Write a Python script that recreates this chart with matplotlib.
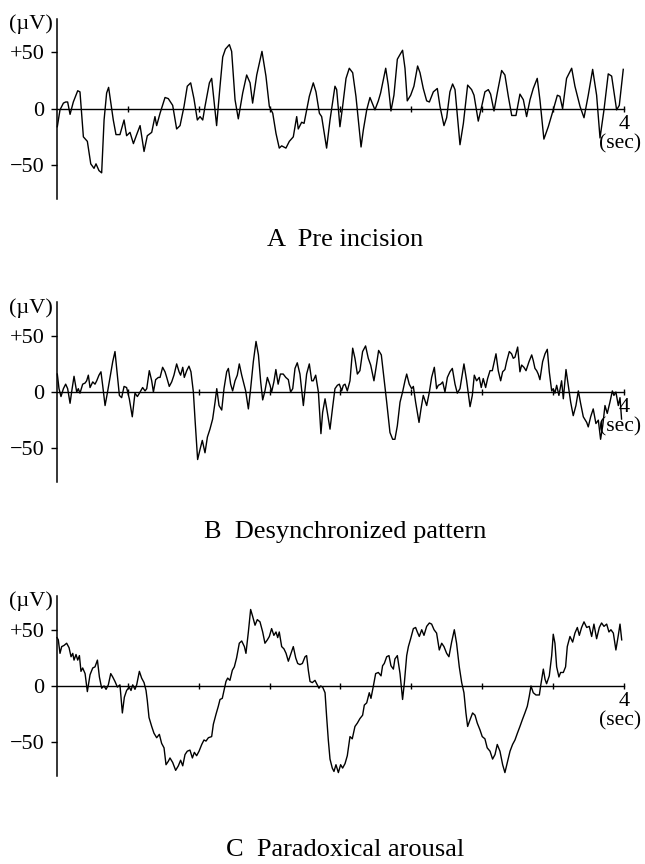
import matplotlib
matplotlib.use("Agg")
import matplotlib.pyplot as plt

plt.rcParams['font.family'] = ['Liberation Serif', 'DejaVu Serif']

# ---------------- data (time in sec, amplitude in microvolts) ----------------
tA = [0.002, 0.021, 0.045, 0.061, 0.075, 0.092, 0.115, 0.146, 0.162, 0.186, 0.214, 0.238, 0.261, 0.275,
      0.296, 0.315, 0.332, 0.350, 0.364, 0.397, 0.416, 0.444, 0.473, 0.491, 0.515, 0.539, 0.562, 0.586,
      0.614, 0.637, 0.668, 0.691, 0.703, 0.727, 0.762, 0.785, 0.816, 0.844, 0.868, 0.896, 0.919, 0.943,
      0.966, 0.990, 1.009, 1.028, 1.044, 1.075, 1.091, 1.126, 1.150, 1.169, 1.188, 1.216, 1.232, 1.256,
      1.279, 1.310, 1.338, 1.362, 1.380, 1.409, 1.446, 1.474, 1.498, 1.522, 1.545, 1.568, 1.585, 1.615,
      1.639, 1.667, 1.691, 1.702, 1.726, 1.743, 1.757, 1.780, 1.808, 1.827, 1.851, 1.867, 1.902, 1.926,
      1.961, 1.973, 1.996, 2.015, 2.039, 2.062, 2.086, 2.109, 2.126, 2.145, 2.161, 2.185, 2.208, 2.227,
      2.243, 2.267, 2.283, 2.319, 2.337, 2.356, 2.377, 2.401, 2.419, 2.438, 2.455, 2.471, 2.495, 2.518,
      2.544, 2.561, 2.584, 2.608, 2.627, 2.655, 2.683, 2.702, 2.730, 2.749, 2.772, 2.791, 2.808, 2.843,
      2.867, 2.897, 2.925, 2.942, 2.972, 2.996, 3.019, 3.043, 3.059, 3.083, 3.106, 3.137, 3.160, 3.184,
      3.208, 3.238, 3.266, 3.290, 3.313, 3.337, 3.360, 3.388, 3.407, 3.435, 3.466, 3.501, 3.530, 3.548,
      3.567, 3.595, 3.631, 3.654, 3.690, 3.718, 3.748, 3.779, 3.807, 3.831, 3.859, 3.889, 3.913, 3.948,
      3.967, 3.995]
vA = [-16, -1, 5, 6, 6, -5, 6, 16, 15, -25, -29, -49, -53, -49,
      -55, -57, -10, 14, 19, -10, -23, -23, -10, -24, -21, -31, -23, -15,
      -38, -24, -21, -7, -15, -4, 10, 9, 3, -18, -15, 2, 20, 23,
      9, -10, -7, -10, 2, 23, 27, -15, 20, 46, 53, 57, 51, 8,
      -9, 14, 30, 23, 5, 30, 51, 29, 2, -4, -22, -35, -33, -35,
      -29, -25, -7, -18, -12, -13, -4, 11, 23, 15, -4, -7, -35, -10,
      20, 17, -16, 2, 27, 36, 32, 11, -10, -34, -19, -1, 10, 4,
      -1, 7, 14, 36, 21, -2, 12, 44, 48, 52, 36, 7, 12, 20,
      38, 32, 18, 7, 6, 15, 18, 2, -15, -8, 15, 22, 17, -32,
      -13, 21, 17, 12, -11, 2, 15, 17, 13, -2, 14, 34, 30, 11,
      -6, -6, 13, 8, -7, 8, 18, 27, 8, -27, -16, -1, 12, 11,
      0, 27, 36, 20, 2, -8, 12, 35, 12, -26, -1, 31, 29, -1,
      3, 35]

tB = [0.002, 0.014, 0.028, 0.045, 0.061, 0.075, 0.092, 0.103, 0.120, 0.139, 0.150, 0.162, 0.181, 0.198,
      0.209, 0.221, 0.233, 0.252, 0.268, 0.280, 0.296, 0.310, 0.322, 0.339, 0.355, 0.374, 0.393, 0.409,
      0.426, 0.440, 0.456, 0.473, 0.491, 0.510, 0.531, 0.550, 0.567, 0.586, 0.604, 0.621, 0.633, 0.651,
      0.668, 0.680, 0.696, 0.715, 0.727, 0.745, 0.762, 0.774, 0.792, 0.809, 0.825, 0.844, 0.861, 0.872,
      0.887, 0.898, 0.915, 0.931, 0.945, 0.962, 0.974, 0.992, 1.009, 1.025, 1.044, 1.061, 1.079, 1.098,
      1.115, 1.127, 1.143, 1.162, 1.178, 1.197, 1.209, 1.225, 1.239, 1.256, 1.272, 1.286, 1.303, 1.315,
      1.331, 1.350, 1.366, 1.385, 1.404, 1.421, 1.437, 1.451, 1.467, 1.484, 1.503, 1.514, 1.530, 1.544,
      1.560, 1.576, 1.596, 1.614, 1.632, 1.648, 1.663, 1.679, 1.695, 1.714, 1.738, 1.761, 1.780, 1.797,
      1.808, 1.825, 1.844, 1.862, 1.874, 1.891, 1.907, 1.926, 1.945, 1.961, 1.978, 1.992, 2.008, 2.020,
      2.032, 2.048, 2.067, 2.086, 2.102, 2.119, 2.137, 2.156, 2.177, 2.196, 2.213, 2.236, 2.250, 2.269,
      2.288, 2.307, 2.326, 2.349, 2.368, 2.384, 2.401, 2.420, 2.438, 2.455, 2.467, 2.485, 2.502, 2.514,
      2.530, 2.554, 2.568, 2.584, 2.608, 2.627, 2.643, 2.662, 2.678, 2.690, 2.707, 2.721, 2.737, 2.754,
      2.772, 2.789, 2.808, 2.824, 2.843, 2.871, 2.890, 2.914, 2.930, 2.944, 2.960, 2.979, 2.993, 3.007,
      3.024, 3.038, 3.055, 3.071, 3.097, 3.113, 3.130, 3.144, 3.160, 3.172, 3.191, 3.207, 3.219, 3.231,
      3.250, 3.266, 3.278, 3.294, 3.309, 3.330, 3.349, 3.360, 3.372, 3.384, 3.395, 3.407, 3.426, 3.443,
      3.459, 3.473, 3.490, 3.501, 3.513, 3.525, 3.541, 3.560, 3.572, 3.591, 3.607, 3.624, 3.642, 3.661,
      3.678, 3.694, 3.713, 3.737, 3.748, 3.765, 3.783, 3.802, 3.819, 3.835, 3.850, 3.866, 3.882, 3.901,
      3.918, 3.929, 3.943, 3.960, 3.972, 3.983]
vB = [16, 3, -4, 3, 7, 3, -10, 0, 14, 0, 3, -1, 7, 8,
      10, 15, 4, 9, 7, 10, 15, 18, 6, -12, -1, 13, 27, 36,
      15, -3, -5, 5, 4, -6, -22, -1, -4, 0, 4, 1, 3, 19,
      10, 0, 11, 13, 13, 22, 18, 13, 5, 9, 15, 25, 18, 15,
      22, 13, 19, 23, 18, 0, -25, -60, -51, -43, -54, -40, -33, -24,
      -9, 3, -12, -16, 3, 18, 21, 7, 1, 10, 15, 25, 15, 9,
      1, -15, 3, 27, 45, 33, 9, -7, 1, 13, 6, 0, 9, 20,
      7, 16, 16, 13, 11, 0, 3, 21, 26, 16, -12, 16, 25, 10,
      10, 15, 0, -37, -18, -6, -18, -33, -13, 3, 6, 7, 1, 6,
      7, 1, 10, 39, 30, 16, 19, 36, 41, 30, 24, 10, 21, 37,
      33, 12, -9, -36, -42, -42, -30, -9, 0, 10, 16, 7, 3, 5,
      -9, -27, -15, -3, -12, 0, 13, 22, 3, 6, 7, 9, 0, 13,
      18, 21, 7, -1, 3, 25, 10, -13, -3, 15, 10, 13, 4, 12,
      4, 12, 19, 19, 34, 19, 10, 18, 20, 27, 36, 34, 30, 31,
      40, 18, 24, 22, 19, 27, 33, 28, 21, 19, 16, 11, 27, 34,
      38, 18, 1, 3, -1, 6, -3, 10, -6, 20, 6, -9, -21, -12,
      1, -10, -22, -27, -31, -22, -15, -28, -25, -42, -30, -12, -19, -9,
      1, -3, 0, -12, -5, -24]

tC = [0.000, 0.009, 0.021, 0.033, 0.049, 0.068, 0.085, 0.099, 0.111, 0.120, 0.134, 0.146, 0.158, 0.169,
      0.181, 0.198, 0.214, 0.233, 0.252, 0.268, 0.285, 0.299, 0.315, 0.332, 0.346, 0.362, 0.379, 0.393,
      0.409, 0.426, 0.444, 0.461, 0.475, 0.491, 0.510, 0.522, 0.534, 0.550, 0.562, 0.581, 0.597, 0.614,
      0.628, 0.637, 0.649, 0.668, 0.684, 0.703, 0.722, 0.738, 0.755, 0.769, 0.785, 0.797, 0.816, 0.837,
      0.856, 0.872, 0.887, 0.903, 0.919, 0.938, 0.955, 0.969, 0.985, 1.002, 1.021, 1.037, 1.051, 1.068,
      1.091, 1.103, 1.122, 1.138, 1.150, 1.166, 1.178, 1.192, 1.204, 1.220, 1.237, 1.251, 1.267, 1.286,
      1.303, 1.322, 1.333, 1.350, 1.366, 1.380, 1.397, 1.413, 1.432, 1.451, 1.467, 1.484, 1.498, 1.514,
      1.530, 1.545, 1.557, 1.568, 1.585, 1.601, 1.616, 1.632, 1.648, 1.667, 1.684, 1.698, 1.714, 1.731,
      1.750, 1.761, 1.773, 1.785, 1.801, 1.820, 1.832, 1.848, 1.860, 1.874, 1.891, 1.902, 1.914, 1.926,
      1.942, 1.954, 1.968, 1.985, 2.001, 2.015, 2.032, 2.048, 2.067, 2.083, 2.102, 2.119, 2.137, 2.156,
      2.168, 2.185, 2.203, 2.215, 2.232, 2.248, 2.267, 2.286, 2.297, 2.309, 2.326, 2.342, 2.356, 2.373,
      2.384, 2.401, 2.420, 2.438, 2.450, 2.467, 2.479, 2.495, 2.514, 2.530, 2.542, 2.556, 2.573, 2.589,
      2.608, 2.627, 2.643, 2.660, 2.678, 2.697, 2.714, 2.730, 2.749, 2.765, 2.784, 2.803, 2.819, 2.838,
      2.855, 2.871, 2.885, 2.897, 2.914, 2.932, 2.949, 2.965, 2.984, 3.000, 3.019, 3.035, 3.055, 3.073,
      3.090, 3.106, 3.125, 3.144, 3.160, 3.179, 3.196, 3.214, 3.231, 3.248, 3.266, 3.283, 3.301, 3.318,
      3.332, 3.344, 3.360, 3.379, 3.403, 3.412, 3.431, 3.443, 3.454, 3.473, 3.490, 3.501, 3.513, 3.525,
      3.541, 3.553, 3.572, 3.588, 3.600, 3.619, 3.638, 3.654, 3.671, 3.685, 3.701, 3.718, 3.737, 3.755,
      3.772, 3.788, 3.807, 3.826, 3.842, 3.859, 3.878, 3.894, 3.908, 3.925, 3.943, 3.960, 3.972, 3.984]
vC = [43, 41, 29, 35, 36, 38, 34, 26, 29, 23, 28, 23, 27, 13,
      16, 11, -5, 10, 16, 17, 23, 8, -2, 0, -3, 1, 11, 8,
      4, -1, 1, -24, -10, -4, -1, -4, 1, -3, 1, 13, 7, 3,
      -4, -13, -28, -36, -42, -46, -43, -51, -55, -70, -67, -64, -68, -75,
      -71, -66, -71, -61, -58, -57, -64, -59, -62, -58, -52, -48, -49, -46,
      -45, -34, -25, -18, -12, -11, -4, 4, 7, 5, 14, 17, 25, 38,
      40, 35, 29, 48, 68, 62, 54, 59, 57, 48, 38, 41, 44, 51,
      45, 48, 43, 48, 35, 33, 29, 22, 28, 35, 25, 20, 19, 20,
      26, 27, 14, 4, 3, 5, 2, -2, 0, -1, -6, -27, -48, -65,
      -73, -76, -70, -77, -70, -73, -69, -62, -45, -47, -36, -33, -29, -26,
      -17, -15, -6, -11, 0, 11, 12, 9, 18, 20, 26, 27, 18, 15,
      24, 27, 11, -12, 2, 27, 35, 42, 51, 52, 48, 44, 50, 45,
      53, 56, 55, 50, 47, 32, 38, 35, 29, 26, 39, 50, 38, 17,
      3, -6, -24, -36, -30, -24, -26, -33, -39, -45, -47, -55, -58, -65,
      -61, -52, -58, -70, -77, -67, -58, -52, -48, -42, -36, -30, -24, -18,
      -9, 0, -6, -8, -8, 0, 15, 6, 2, 9, 27, 46, 38, 17,
      8, 12, 12, 17, 35, 44, 39, 47, 52, 45, 52, 57, 52, 53,
      44, 55, 42, 52, 56, 53, 55, 48, 50, 47, 32, 45, 55, 41]

titles = ["A  Pre incision", "B  Desynchronized pattern", "C  Paradoxical arousal"]
y_ticks = [-50, 0, 50]
y_tick_labels = ["\u221250", "0", "+50"]
x_ticks = [0.5, 1.0, 1.5, 2.0, 2.5, 3.0, 3.5, 4.0]

# ---------------- layout ----------------
fig = plt.figure(figsize=(6.45, 8.64), dpi=100)
fig.patch.set_facecolor("white")

axes_bottoms = [0.770, 0.4421, 0.1019]
title_y = [0.7153, 0.3773, 0.0095]
ax_left, ax_width, ax_height = 0.0884, 0.879, 0.2083

series = [(tA, vA), (tB, vB), (tC, vC)]

for (t, v), title, bottom, ty in zip(series, titles, axes_bottoms, title_y):
    ax = fig.add_axes([ax_left, bottom, ax_width, ax_height])
    ax.set_xlim(0, 4)
    ax.set_ylim(-80, 80)
    ax.patch.set_alpha(0)

    for s in ("top", "right"):
        ax.spines[s].set_visible(False)
    ax.spines["left"].set_linewidth(1.1)
    ax.spines["bottom"].set_position(("data", 0))
    ax.spines["bottom"].set_linewidth(1.0)

    ax.set_yticks(y_ticks)
    ax.set_yticklabels(y_tick_labels)
    ax.tick_params(axis="y", direction="out", length=4, width=1.0, pad=5, labelsize=16)

    ax.set_xticks(x_ticks)
    ax.set_xticklabels([])
    ax.tick_params(axis="x", direction="inout", length=4, width=1.0)

    ax.plot(t, v, color="black", lw=1.0, clip_on=False, solid_joinstyle="round")

    ax.text(-0.008, 75, "(\u00b5V)", transform=ax.get_yaxis_transform(),
            ha="right", va="center", fontsize=16)
    ax.text(4.0, -14, "4", ha="center", va="center", fontsize=16)
    ax.text(3.975, -31, "(sec)", ha="center", va="center", fontsize=15.5)

    fig.text(0.535, ty, title, ha="center", va="baseline", fontsize=19)

fig.savefig("out.png", dpi=100, facecolor="white")
